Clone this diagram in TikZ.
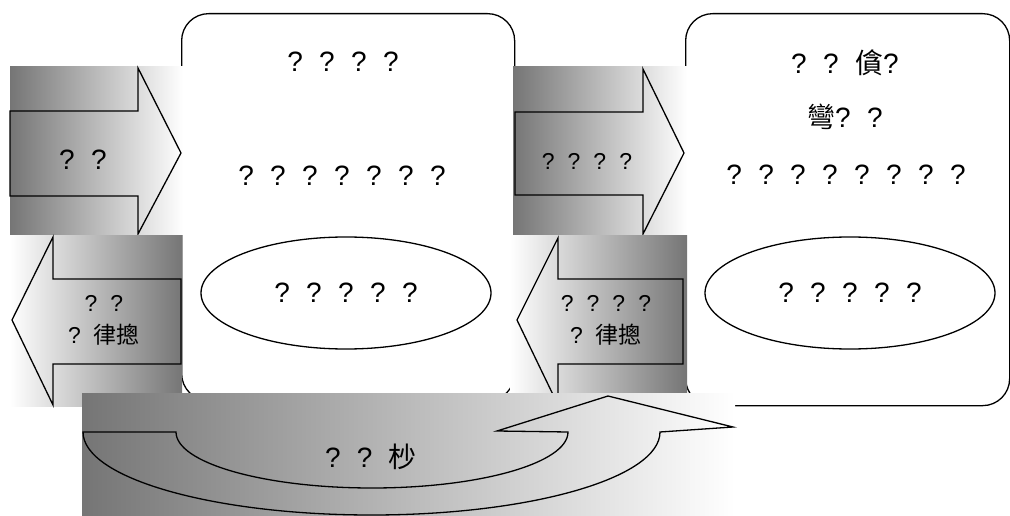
\documentclass[tikz,border=0pt]{standalone}
\usepackage{fontspec}
\setmainfont{Liberation Sans}
\newfontfamily\cjk{Noto Sans CJK TC}
\usetikzlibrary{shapes.geometric}
\definecolor{gdark}{gray}{0.46}
\begin{document}
\begin{tikzpicture}[x=1pt,y=-1pt,line width=1.3pt,line join=miter,
  boxtext/.style={font={\fontsize{28}{34}\selectfont\frenchspacing\spaceskip=16.4pt\relax},inner sep=0pt},
  arrtext/.style={font={\fontsize{23}{32}\selectfont\frenchspacing\spaceskip=13pt\relax},inner sep=0pt,align=center},
  panel/.style={draw,rounded corners=27pt,fill=white,anchor=north west},
  oval/.style={draw,ellipse,fill=white,inner sep=0pt},
  band/.style={left color=gdark,right color=white},
  bandrev/.style={left color=white,right color=gdark}]
\useasboundingbox (0,0) rectangle (1010,516);

% panels
\node[panel,minimum width=333pt,minimum height=387pt] (box1) at (181,13) {};
\node[panel,minimum width=324pt,minimum height=392pt] (box2) at (685,13) {};

% panel 1 contents
\node[boxtext] (t11) at (343,62) {? ? ? ?};
\node[boxtext] (t12) at (342,176) {? ? ? ? ? ? ?};
\node[oval,boxtext,minimum width=290pt,minimum height=112pt] (e1) at (346,293) {? ? ? ? ?};

% panel 2 contents
\node[boxtext] (t21) at (845,63) {? ? {\cjk 僋}?};
\node[boxtext] (t22) at (845,117) {{\cjk 彎}? ?};
\node[boxtext] (t23) at (846,175) {? ? ? ? ? ? ? ?};
\node[oval,boxtext,minimum width=290pt,minimum height=112pt] (e2) at (850,293) {? ? ? ? ?};

% arrow 1 (right)
\shade[band] (10,67) rectangle (183,234);
\draw (10,111) -- (138,111) -- (138,68) -- (181,153) -- (138,234) -- (138,196) -- (10,196) -- cycle;
\node[boxtext] (a1) at (83,160) {? ?};

% arrow 2 (left)
\shade[bandrev] (10,235) rectangle (182,406);
\draw (181,279) -- (53,279) -- (53,237) -- (12,320) -- (53,405) -- (53,364) -- (181,364) -- cycle;
\node[arrtext] (a2) at (104,320) {? ?\\? {\cjk 律摠}};

% arrow 3 (right)
\shade[band] (513,67) rectangle (687,234);
\draw (515,112) -- (643,112) -- (643,69) -- (684,153) -- (643,234) -- (643,195) -- (515,195) -- cycle;
\node[arrtext] (a3) at (587,161) {? ? ? ?};

% arrow 4 (left)
\shade[bandrev] (510,235) rectangle (687,400);
\draw (683,279) -- (558,279) -- (558,238) -- (517,320) -- (558,405) -- (558,364) -- (683,364) -- cycle;
\node[arrtext] (a4) at (606,320) {? ? ? ?\\? {\cjk 律摠}};

% curved return arrow
\shade[band] (82,393) rectangle (735,516);
\draw (83,432) -- (176,432) arc[start angle=180,end angle=0,x radius=196,y radius=56]
  -- (497,431) -- (608,396) -- (733,427) -- (660,432)
  arc[start angle=0,end angle=180,x radius=288.5,y radius=83] -- cycle;
\node[boxtext] (c1) at (371,457) {? ? {\cjk 杪}};
\end{tikzpicture}
\end{document}
